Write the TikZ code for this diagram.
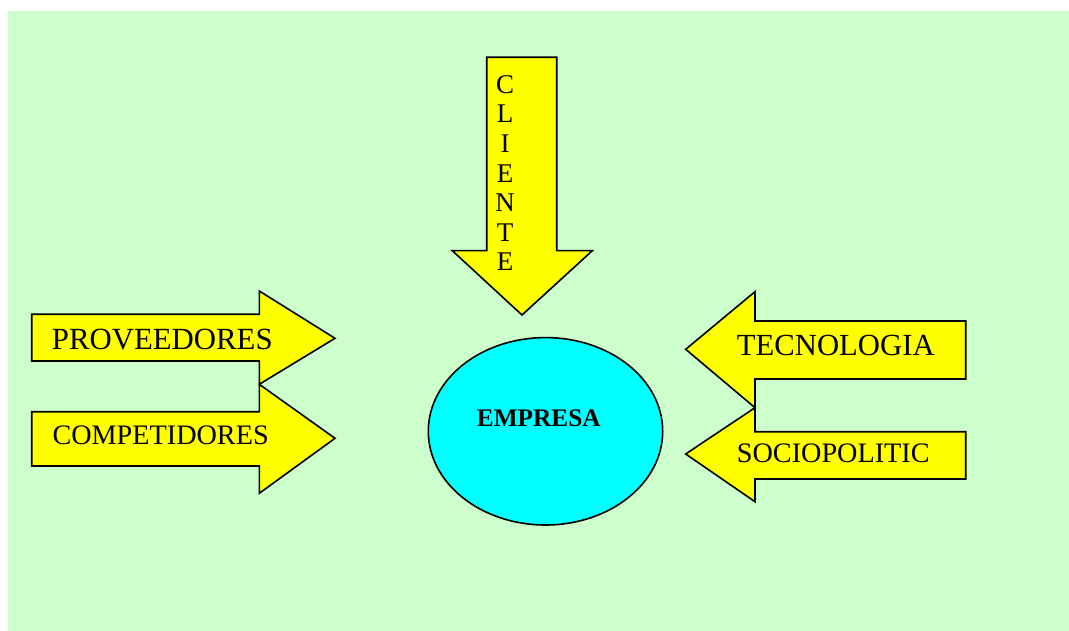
\documentclass[tikz,border=0pt]{standalone}
\usepackage{fontspec}
\setmainfont{Liberation Serif}
\definecolor{bggreen}{HTML}{CCFFCC}
\definecolor{arrowyellow}{HTML}{FFFF00}
\definecolor{firmcyan}{HTML}{00FFFF}
\begin{document}
\begin{tikzpicture}[x=1pt,y=-1pt,
  blockarrow/.style={draw=black,fill=arrowyellow,line width=1.6pt,line join=miter},
  label/.style={inner sep=0pt,anchor=base west,text=black},
  fsz/.style={font=\fontsize{#1}{#1}\selectfont}]
\useasboundingbox (0,0) rectangle (1069,631);
% background panel
\fill[bggreen] (8,11) rectangle (1069,631);

% customer arrow pointing down
\draw[blockarrow] (486.7,57.3) -- (556.7,57.3) -- (556.7,250.7) -- (592.3,250.7)
  -- (522,315) -- (452.3,250.7) -- (486.7,250.7) -- cycle;
\foreach \l [count=\i] in {C,L,I,E,N,T,E}
  \node[inner sep=0pt,anchor=base,fsz=27] (cl\i) at (505,{93.3+29.6*(\i-1)}) {\l};

% arrows from the left
\draw[blockarrow] (31.7,314.3) -- (259.3,314.3) -- (259.3,291) -- (335,338.3)
  -- (259.3,384.3) -- (259.3,361) -- (31.7,361) -- cycle;
\draw[blockarrow] (31.7,411.7) -- (259.3,411.7) -- (259.3,384.3) -- (335,438.3)
  -- (259.3,493.3) -- (259.3,466) -- (31.7,466) -- cycle;
\node[label,fsz=30.8] (prov) at (51.7,349.3) {PROVEEDORES};
\node[label,fsz=28.2] (comp) at (52.3,444) {COMPETIDORES};

% arrows from the right
\draw[blockarrow] (965.7,321) -- (755,321) -- (755,291.7) -- (685.7,349.3)
  -- (755,407.7) -- (755,379) -- (965.7,379) -- cycle;
\draw[blockarrow] (965.7,431.7) -- (755,431.7) -- (755,407.7) -- (685.7,454)
  -- (755,501.7) -- (755,479) -- (965.7,479) -- cycle;
\node[label,fsz=30.7] (tec) at (736.7,355) {TECNOLOGIA};
\node[label,fsz=28.2] (soc) at (736.7,462.7) {SOCIOPOLITIC};

% the firm
\draw[fill=firmcyan,line width=1.6pt] (545.5,431.3) ellipse [x radius=117.2,y radius=93.7];
\node[label,fsz=25.3] (emp) at (476.7,426.7) {\bfseries EMPRESA};
\end{tikzpicture}
\end{document}
